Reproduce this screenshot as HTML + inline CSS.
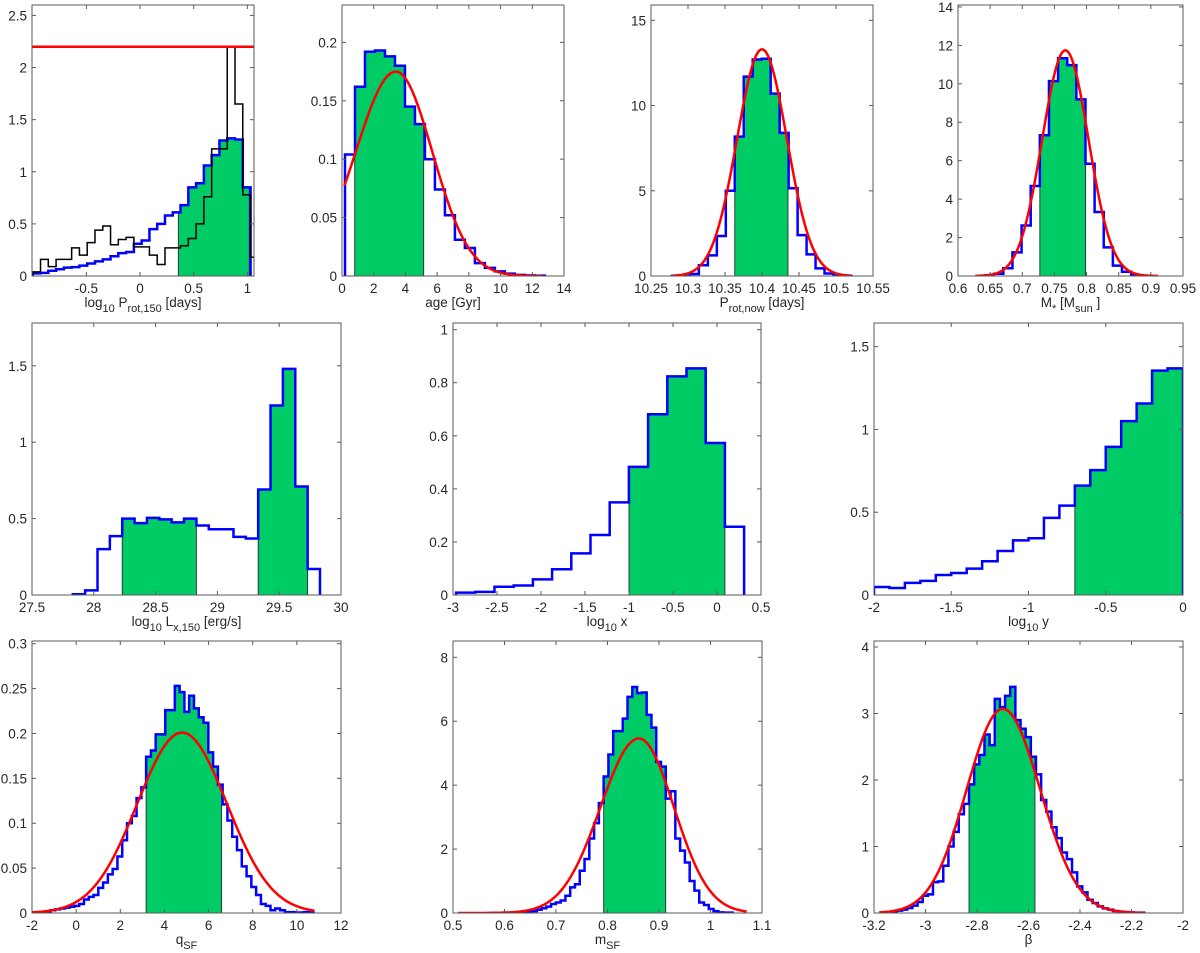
<!DOCTYPE html>
<html><head><meta charset="utf-8"><style>
html,body{margin:0;padding:0;background:#fff;}
svg{display:block;font-family:"Liberation Sans",sans-serif;}
</style></head><body>
<svg id="fig" width="1200" height="953" viewBox="0 0 1200 953"></svg>
<script>
// ---------- DATA ----------
const p1BinStart=-1.0, p1BinWidth=0.0725;
const p1Blue=[0.025,0.03,0.05,0.065,0.08,0.085,0.1,0.12,0.14,0.16,0.19,0.22,0.23,0.31,0.34,0.45,0.5,0.58,0.61,0.68,0.85,0.89,1.06,1.16,1.30,1.32,1.31,0.85];
const p1Black=[0.04,0.16,0.09,0.16,0.16,0.27,0.2,0.32,0.44,0.48,0.3,0.35,0.37,0.28,0.28,0.2,0.11,0.27,0.27,0.29,0.36,0.5,0.76,1.22,1.22,2.2,1.65,0.78,0.18];
const p1Green=[0.357,1.018];
const p1RedLevel=2.2;

const p2BinStart=0.19, p2BinWidth=0.63;
const p2Blue=[0.104,0.162,0.192,0.193,0.188,0.18,0.145,0.13,0.1,0.074,0.052,0.031,0.024,0.011,0.007,0.004,0.002,0.001,0.0005,0.0003];
const p2Green=[0.8,5.15];
const p2Fit=[3.4,2.54,2.3,0.175,0.15,12.6]; // mu, sigmaL, sigmaR, amp, xmin, xmax

const p3BinStart=10.2783, p3BinWidth=0.01213;
const p3Blue=[0.01,0.03,0.12,0.63,1.21,2.35,5.0,8.18,11.7,12.7,12.75,10.7,8.4,5.15,2.4,1.27,0.45,0.15,0.04,0.01];
const p3Green=[10.3632,10.4351];
const p3Fit=[10.4,0.0336,0.0336,13.3,10.28,10.52];

const p4BinStart=0.6421, p4BinWidth=0.0142;
const p4Blue=[0.03,0.12,0.4,1.23,2.63,4.68,7.32,10.14,11.33,10.97,9.19,5.84,3.33,1.49,0.54,0.22,0.05];
const p4Green=[0.7273,0.7985];
const p4Fit=[0.767,0.036,0.036,11.74,0.627,0.911];

const p5BinStart=27.83, p5BinWidth=0.1;
const p5Blue=[0.005,0.03,0.3,0.385,0.5,0.47,0.505,0.495,0.475,0.5,0.455,0.43,0.43,0.38,0.37,0.69,1.24,1.48,0.71,0.17];
const p5GreenA=[28.23,28.83];
const p5GreenB=[29.33,29.73];

const p6BinStart=-2.965, p6BinWidth=0.2182;
const p6Blue=[0.009,0.012,0.031,0.036,0.059,0.097,0.157,0.226,0.349,0.483,0.681,0.824,0.854,0.573,0.257];
const p6Green=[-1.0,0.09];

const p7BinStart=-2.0, p7BinWidth=0.1;
const p7Blue=[0.048,0.042,0.073,0.085,0.121,0.133,0.159,0.204,0.266,0.33,0.343,0.466,0.54,0.661,0.754,0.895,1.05,1.157,1.355,1.369];
const p7Green=[-0.7,0.0];

const p8BinStart=-2.03, p8BinWidth=0.2167;
const p8Blue=[0.0,0.001,0.001,0.002,0.003,0.004,0.005,0.006,0.007,0.008,0.01,0.015,0.018,0.02,0.028,0.034,0.043,0.049,0.063,0.081,0.1,0.108,0.128,0.14,0.174,0.181,0.199,0.199,0.226,0.226,0.253,0.246,0.224,0.242,0.228,0.218,0.212,0.179,0.163,0.143,0.121,0.103,0.085,0.07,0.052,0.041,0.029,0.02,0.01,0.008,0.003,0.005,0.003,0.001,0.001,0.0005,0.0005,0.001,0.0005];
const p8Green=[3.17,6.59];
const p8Fit=[4.8,2.03,2.03,0.201,-2.0,10.8];

const p9BinStart=0.5698, p9BinWidth=0.00928;
const p9Blue=[0.0,0.005,0.0,0.01,0.0,0.01,0.015,0.02,0.03,0.06,0.1,0.15,0.2,0.28,0.33,0.39,0.54,0.8,0.9,1.32,1.69,2.33,2.81,3.44,4.27,4.96,5.69,5.69,6.08,6.76,7.07,6.88,6.9,6.2,5.8,4.73,4.58,3.58,3.81,2.33,1.95,1.58,1.0,0.7,0.33,0.25,0.125,0.06,0.02,0.01,0.01];
const p9Green=[0.7926,0.913];
const p9Fit=[0.861,0.0747,0.068,5.46,0.51,1.07];

const p10BinStart=-3.171, p10BinWidth=0.02;
const p10Blue=[0.005,0.015,0.02,0.035,0.05,0.075,0.11,0.165,0.26,0.28,0.465,0.475,0.71,1.0,1.22,1.485,1.64,1.935,2.235,2.375,2.685,2.525,3.22,3.095,3.265,3.4,2.9,2.77,2.645,2.35,2.085,1.7,1.525,1.29,1.125,0.91,0.81,0.61,0.4,0.31,0.2,0.15,0.1,0.07,0.05,0.03,0.02,0.015,0.01,0.005,0.005];
const p10Green=[-2.831,-2.575];
const p10Fit=[-2.70,0.14,0.145,3.07,-3.18,-2.15];

const p1XTicks=["-0.5","0","0.5","1"], p1YTicks=["0","0.5","1","1.5","2","2.5"];
const p2XTicks=["0","2","4","6","8","10","12","14"], p2YTicks=["0","0.05","0.1","0.15","0.2"];
const p3XTicks=["10.25","10.3","10.35","10.4","10.45","10.5","10.55"], p3YTicks=["0","5","10","15"];
const p4XTicks=["0.6","0.65","0.7","0.75","0.8","0.85","0.9","0.95"], p4YTicks=["0","2","4","6","8","10","12","14"];
const p5XTicks=["27.5","28","28.5","29","29.5","30"], p5YTicks=["0","0.5","1","1.5"];
const p6XTicks=["-3","-2.5","-2","-1.5","-1","-0.5","0","0.5"], p6YTicks=["0","0.2","0.4","0.6","0.8","1"];
const p7XTicks=["-2","-1.5","-1","-0.5","0"], p7YTicks=["0","0.5","1","1.5"];
const p8XTicks=["-2","0","2","4","6","8","10","12"], p8YTicks=["0","0.05","0.1","0.15","0.2","0.25","0.3"];
const p9XTicks=["0.5","0.6","0.7","0.8","0.9","1","1.1"], p9YTicks=["0","2","4","6","8"];
const p10XTicks=["-3.2","-3","-2.8","-2.6","-2.4","-2.2","-2"], p10YTicks=["0","1","2","3","4"];

// ---------- RENDER ----------
const NS="http://www.w3.org/2000/svg";
const svg=document.getElementById('fig');
function mk(tag,attrs,parent){const e=document.createElementNS(NS,tag);for(const k in attrs)e.setAttribute(k,attrs[k]);parent.appendChild(e);return e;}
let clipId=0;
const SUB=(t)=>'<tspan dy="5" font-size="11">'+t+'</tspan>';
const UP=(t)=>'<tspan dy="-5">'+t+'</tspan>';

function panel(c){
  const g=mk('g',{},svg);
  
  
  const sx=v=>c.L+(v-c.x0)/(c.x1-c.x0)*(c.R-c.L);
  const sy=v=>c.B-v/c.y1*(c.B-c.T);
  const id='clip'+(clipId++);
  const cp=mk('clipPath',{id:id},g);
  mk('rect',{x:c.L,y:c.T,width:c.R-c.L,height:c.B-c.T},cp);
  const plot=mk('g',{'clip-path':'url(#'+id+')'},g);
  const edge=(h,i)=>h.start+i*h.width;
  (c.green||[]).forEach(gr=>{
    const h=c.hist,a=gr[0],b=gr[1];
    let d='M'+sx(a)+','+sy(0);
    h.values.forEach((v,i)=>{
      const lo=Math.max(edge(h,i),a),hi=Math.min(edge(h,i+1),b);
      if(hi>lo)d+=' L'+sx(lo)+','+sy(v)+' L'+sx(hi)+','+sy(v);
    });
    d+=' L'+sx(b)+','+sy(0)+' Z';
    const p=mk('path',{d:d,fill:'#00cc66',stroke:'#2a2a2a','stroke-width':0.9},plot);
    
    
  });
  const stairs=(h,color,w,name)=>{
    let d='M'+sx(edge(h,0))+','+sy(0);
    h.values.forEach((v,i)=>{d+=' L'+sx(edge(h,i))+','+sy(v)+' L'+sx(edge(h,i+1))+','+sy(v);});
    d+=' L'+sx(edge(h,h.values.length))+','+sy(0);
    const p=mk('path',{d:d,fill:'none',stroke:color,'stroke-width':w,'stroke-linejoin':'miter'},plot);
    
    
  };
  stairs(c.hist,'#0000ff',2.5,'posterior-histogram');
  if(c.black)stairs(c.black,'#000000',1.5,'prior-histogram');
  if(c.fit){
    const f=c.fit;let d='';
    for(let i=0;i<=240;i++){
      const x=f[4]+(f[5]-f[4])*i/240;const s=x<f[0]?f[1]:f[2];
      const y=f[3]*Math.exp(-0.5*((x-f[0])/s)**2);
      d+=(i?' L':'M')+sx(x).toFixed(2)+','+sy(y).toFixed(2);
    }
    const p=mk('path',{d:d,fill:'none',stroke:'#ff0000','stroke-width':2.5},plot);
    
    
  }
  if(c.level!==undefined){
    const p=mk('line',{x1:c.L,x2:c.R,y1:sy(c.level),y2:sy(c.level),stroke:'#ff0000','stroke-width':2.5},plot);
    
    
  }
  const box=mk('rect',{x:c.L,y:c.T,width:c.R-c.L,height:c.B-c.T,fill:'none',stroke:'#5a5a5a','stroke-width':1},g);
  
  
  c.xt.forEach(t=>{
    const x=sx(parseFloat(t));
    mk('line',{x1:x,x2:x,y1:c.B,y2:c.B-4,stroke:'#5a5a5a'},g);
    mk('line',{x1:x,x2:x,y1:c.T,y2:c.T+4,stroke:'#5a5a5a'},g);
    const tx=mk('text',{x:x,y:c.B+17,'text-anchor':'middle','font-size':13.5,fill:'#262626'},g);
    tx.textContent=t;
    
    
  });
  c.yt.forEach(t=>{
    const y=sy(parseFloat(t));
    mk('line',{x1:c.L,x2:c.L+4,y1:y,y2:y,stroke:'#5a5a5a'},g);
    mk('line',{x1:c.R,x2:c.R-4,y1:y,y2:y,stroke:'#5a5a5a'},g);
    const tx=mk('text',{x:c.L-5,y:y+5,'text-anchor':'end','font-size':13.5,fill:'#262626'},g);
    tx.textContent=t;
    
    
  });
  const xl=mk('text',{x:(c.L+c.R)/2,y:c.B+31,'text-anchor':'middle','font-size':13.5,fill:'#262626'},g);
  xl.innerHTML=c.xlabel;
  
  
}

const R1={T:5,B:276},R2={T:323,B:595},R3={T:641,B:913};
panel({name:'panel-prot150',L:32,R:254,...R1,x0:-1.007,x1:1.062,y1:2.6,hist:{start:p1BinStart,width:p1BinWidth,values:p1Blue},black:{start:p1BinStart,width:p1BinWidth,values:p1Black},green:[p1Green],level:p1RedLevel,xt:p1XTicks,yt:p1YTicks,xlabel:'log'+SUB('10')+UP(' P')+SUB('rot,150')+UP('  [days]')});
panel({name:'panel-age',L:342,R:564,...R1,x0:0,x1:14,y1:0.232,hist:{start:p2BinStart,width:p2BinWidth,values:p2Blue},green:[p2Green],fit:p2Fit,xt:p2XTicks,yt:p2YTicks,xlabel:'age [Gyr]'});
panel({name:'panel-prot-now',L:651,R:873,...R1,x0:10.25,x1:10.55,y1:15.9,hist:{start:p3BinStart,width:p3BinWidth,values:p3Blue},green:[p3Green],fit:p3Fit,xt:p3XTicks,yt:p3YTicks,xlabel:'P'+SUB('rot,now')+UP('  [days]')});
panel({name:'panel-mass',L:958,R:1183,...R1,x0:0.6,x1:0.95,y1:14.1,hist:{start:p4BinStart,width:p4BinWidth,values:p4Blue},green:[p4Green],fit:p4Fit,xt:p4XTicks,yt:p4YTicks,xlabel:'M'+SUB('*')+UP(' [M')+SUB('sun')+UP(' ]')});
panel({name:'panel-lx150',L:32,R:341,...R2,x0:27.5,x1:30,y1:1.78,hist:{start:p5BinStart,width:p5BinWidth,values:p5Blue},green:[p5GreenA,p5GreenB],xt:p5XTicks,yt:p5YTicks,xlabel:'log'+SUB('10')+UP(' L')+SUB('x,150')+UP('  [erg/s]')});
panel({name:'panel-log-x',L:453,R:761,...R2,x0:-3,x1:0.5,y1:1.025,hist:{start:p6BinStart,width:p6BinWidth,values:p6Blue},green:[p6Green],xt:p6XTicks,yt:p6YTicks,xlabel:'log'+SUB('10')+UP(' x')});
panel({name:'panel-log-y',L:874,R:1183,...R2,x0:-2,x1:0,y1:1.643,hist:{start:p7BinStart,width:p7BinWidth,values:p7Blue},green:[p7Green],xt:p7XTicks,yt:p7YTicks,xlabel:'log'+SUB('10')+UP(' y')});
panel({name:'panel-qsf',L:32,R:341,...R3,x0:-2,x1:12,y1:0.303,hist:{start:p8BinStart,width:p8BinWidth,values:p8Blue},green:[p8Green],fit:p8Fit,xt:p8XTicks,yt:p8YTicks,xlabel:'q'+SUB('SF')});
panel({name:'panel-msf',L:453,R:762,...R3,x0:0.5,x1:1.1,y1:8.51,hist:{start:p9BinStart,width:p9BinWidth,values:p9Blue},green:[p9Green],fit:p9Fit,xt:p9XTicks,yt:p9YTicks,xlabel:'m'+SUB('SF')});
panel({name:'panel-beta',L:874,R:1183,...R3,x0:-3.2,x1:-2,y1:4.09,hist:{start:p10BinStart,width:p10BinWidth,values:p10Blue},green:[p10Green],fit:p10Fit,xt:p10XTicks,yt:p10YTicks,xlabel:'β'});
</script>
</body></html>
